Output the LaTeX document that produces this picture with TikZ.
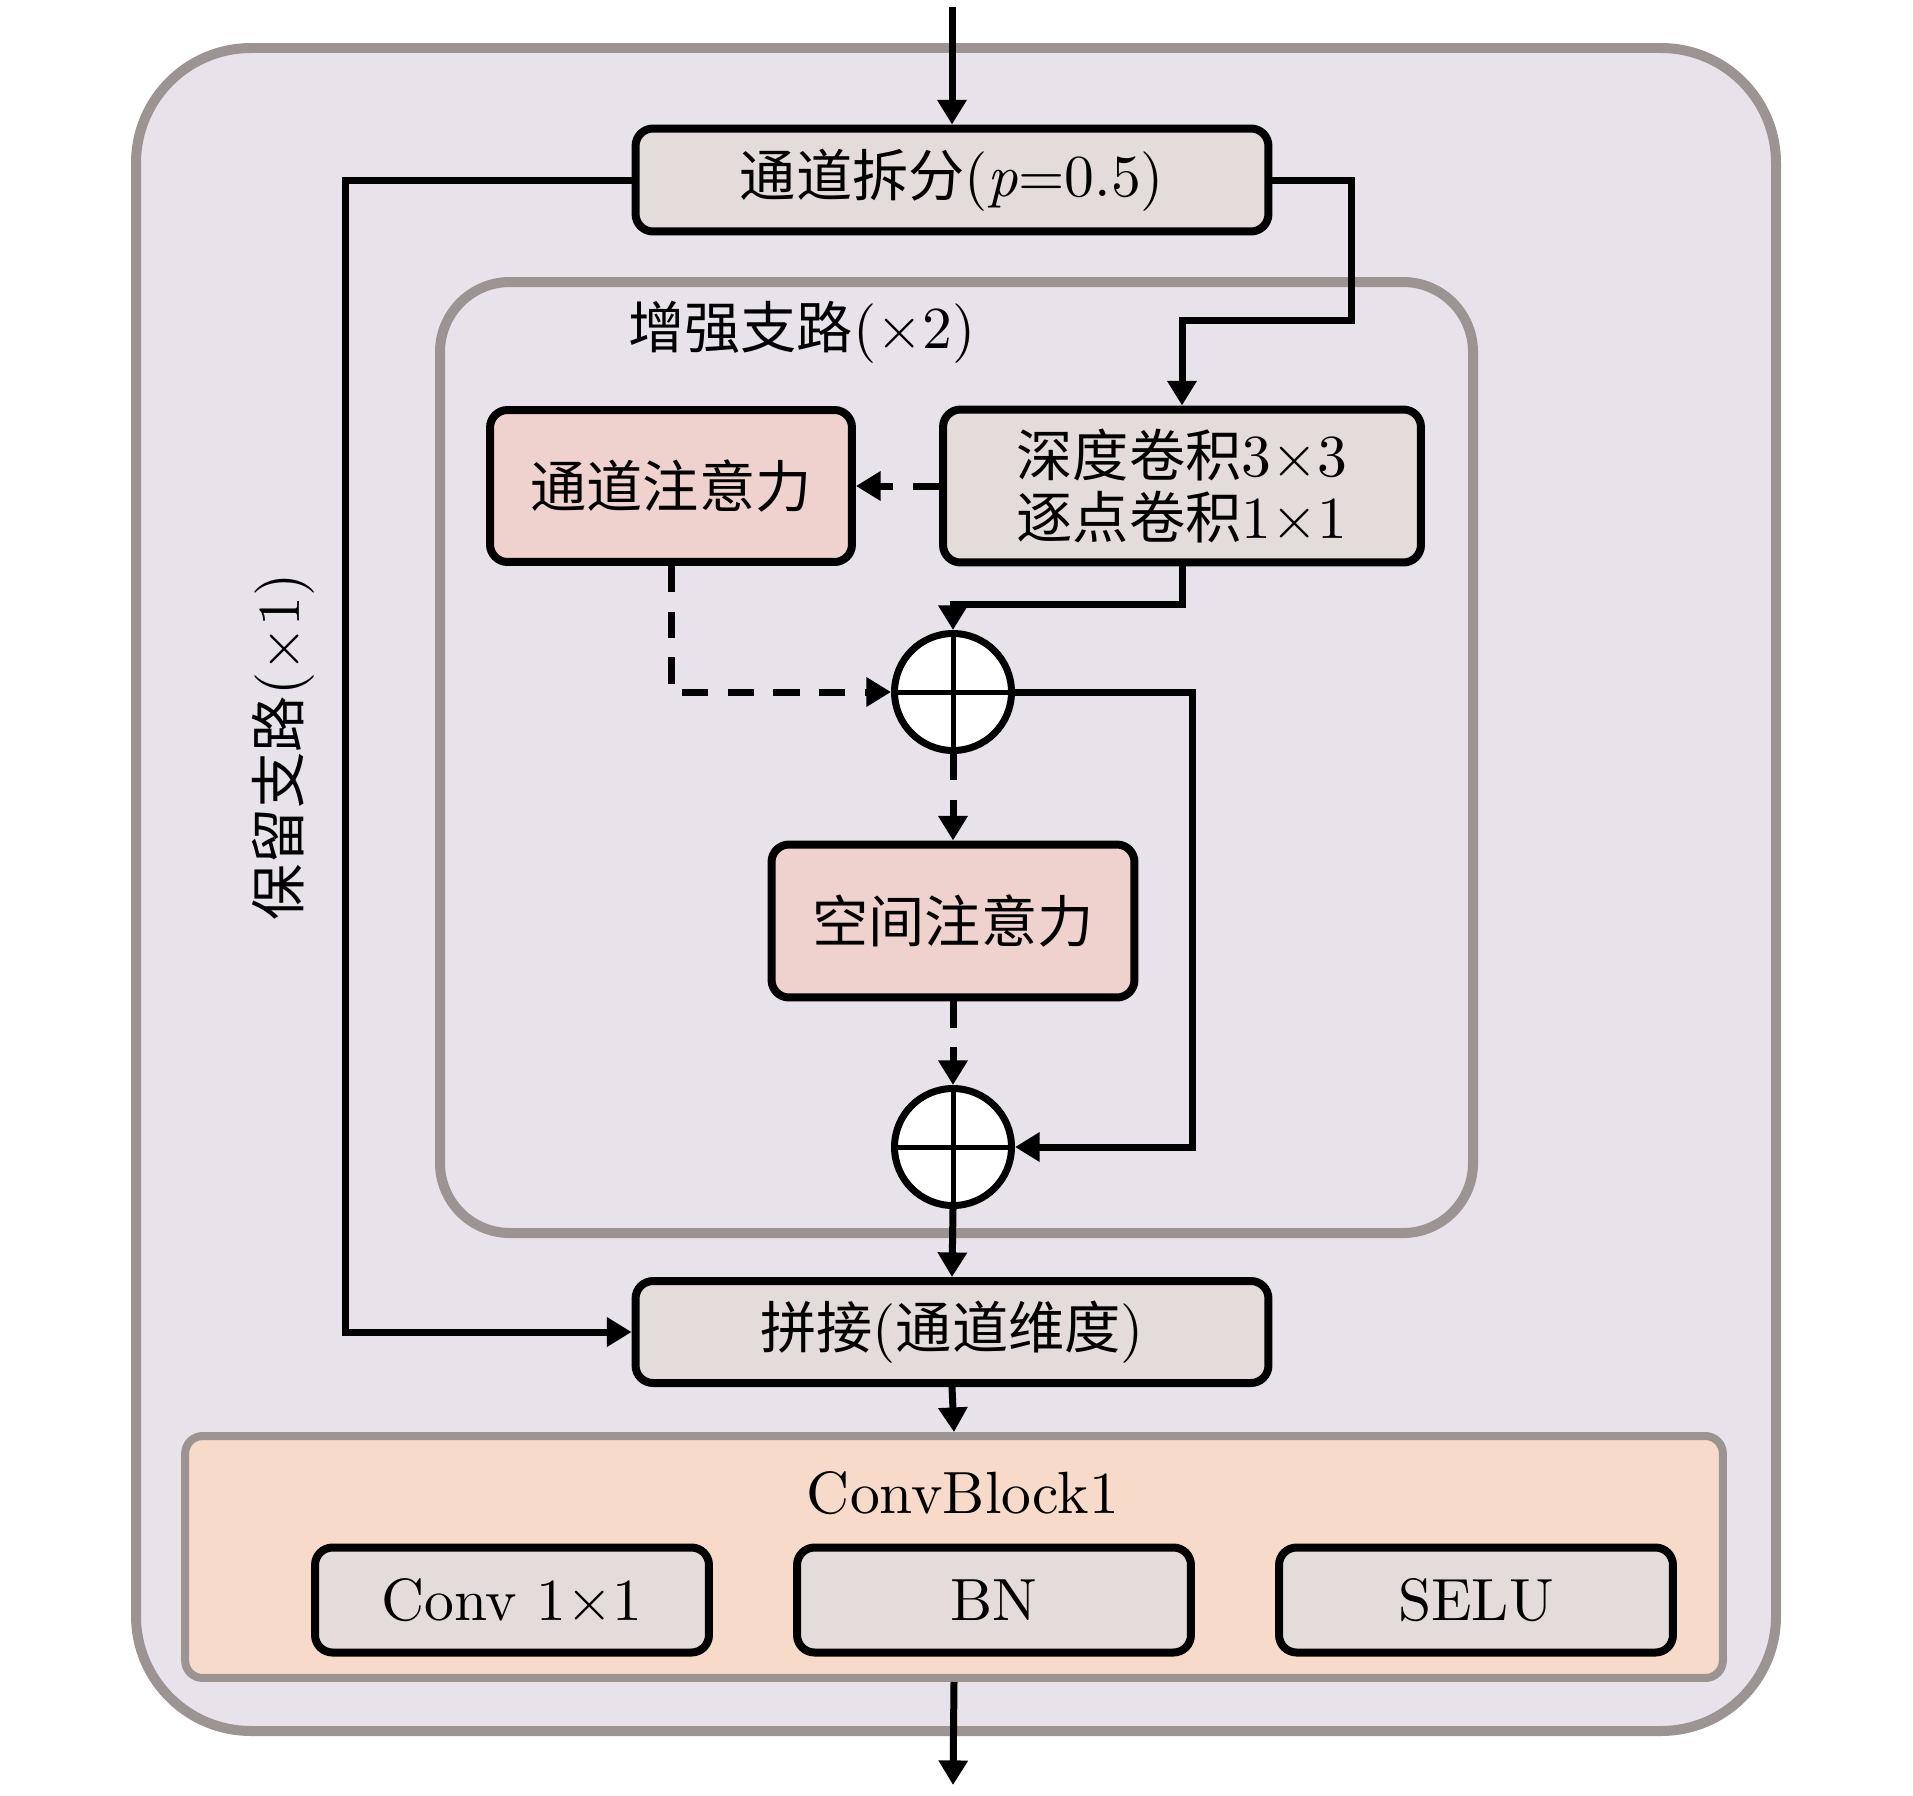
\documentclass[tikz,border=0pt]{standalone}
\usepackage{fontspec}
\setmainfont{lmroman10-regular.otf}[ItalicFont=lmroman10-italic.otf, Scale=1.06]
\newfontfamily\cjk{Noto Sans CJK SC}
\usetikzlibrary{arrows.meta}

\newcommand{\zh}[1]{{\cjk #1}}

\definecolor{outerfill}{HTML}{E8E2EA}
\definecolor{framegray}{HTML}{9C9492}
\definecolor{boxgray}{HTML}{E4DCDA}
\definecolor{attnpink}{HTML}{EFD1CD}
\definecolor{blockpeach}{HTML}{F8DACA}

\begin{document}
\begin{tikzpicture}[x=0.02cm, y=-0.02cm,
    font=\fontsize{32}{35}\selectfont,
    box/.style={draw=black, line width=0.16cm, rounded corners=0.35cm,
        fill=boxgray, inner sep=0pt, align=center},
    attn/.style={box, fill=attnpink},
    sumnode/.style={circle, draw=black, line width=0.14cm, fill=white,
        minimum size=2.34cm, inner sep=0pt},
    link/.style={line width=0.14cm, -{Triangle[length=14pt,width=16pt]}},
    dlink/.style={link, dash pattern=on 15pt off 11pt}]

    \useasboundingbox (0,0) rectangle (1913,1795);

    % --- Outer module frame ---
    \draw[draw=framegray, fill=outerfill, line width=0.2cm, rounded corners=2.3cm]
        (136,48) rectangle (1776,1731);

    % --- Enhanced branch frame ---
    \draw[draw=framegray, line width=0.2cm, rounded corners=1.4cm]
        (440,282) rectangle (1473,1233);
    \node (enhlabel) at (802,332) {\zh{增强支路}(×2)};
    \node[rotate=90] (keeplabel) at (283,747) {\zh{保留支路}(×1)};

    % --- Blocks ---
    \node[box, minimum width=12.66cm, minimum height=2.06cm] (split) at (952,180)
        {\zh{通道拆分}(\textit{p}=0.5)};
    \node[box, minimum width=9.56cm, minimum height=3.06cm] (dw) at (1182,486)
        {\zh{深度卷积}3×3\\\zh{逐点卷积}1×1};
    \node[attn, minimum width=7.24cm, minimum height=3.04cm] (ca) at (671,486)
        {\zh{通道注意力}};
    \node[sumnode] (s1) at (953,692) {};
    \node[attn, minimum width=7.26cm, minimum height=3.06cm] (sa) at (953,921)
        {\zh{空间注意力}};
    \node[sumnode] (s2) at (953,1147) {};
    \node[box, minimum width=12.66cm, minimum height=2.04cm] (cat) at (952,1332)
        {\zh{拼接}(\zh{通道维度})};

    % plus signs
    \foreach \s in {s1,s2}
        \draw[line width=0.1cm] (\s.north) -- (\s.south) (\s.west) -- (\s.east);

    % --- ConvBlock1 ---
    \node[draw=framegray, fill=blockpeach, line width=0.16cm, rounded corners=0.35cm,
        minimum width=30.76cm, minimum height=4.84cm] (cb) at (954,1557) {};
    \node (cblabel) at (963,1493) {ConvBlock1};
    \node[box, minimum width=7.88cm, minimum height=2.1cm] (conv) at (512,1600)
        {Conv 1×1};
    \node[box, minimum width=7.88cm, minimum height=2.1cm] (bn) at (994,1600) {BN};
    \node[box, minimum width=7.88cm, minimum height=2.1cm] (selu) at (1476,1600) {SELU};

    % --- Connectors ---
    \coordinate (in) at (952,7);
    \coordinate (out) at (953,1785);
    \coordinate (lbend) at (345,180);
    \coordinate (rbend) at (1351,320);

    \draw[link] (in) -- (split.north);
    \draw[link] (split.west) -- (lbend) |- (cat.west);
    \draw[link] (split.east) -| (rbend) -| (dw.north);
    \draw[dlink] (dw.west) -- (ca.east);
    \draw[link] (dw.south) -- ++(0,38) -| (s1.north);
    \draw[dlink] (ca.south) |- (s1.west);
    \draw[dlink] (s1.south) -- (sa.north);
    \draw[dlink] (sa.south) -- (s2.north);
    \draw[link] (s1.east) -- ++(177,0) |- (s2.east);
    \draw[link] (s2.south) -- (cat.north);
    \draw[link] (cat.south) -- (cb.north);
    \draw[link] (cb.south) -- (out);

\end{tikzpicture}
\end{document}
